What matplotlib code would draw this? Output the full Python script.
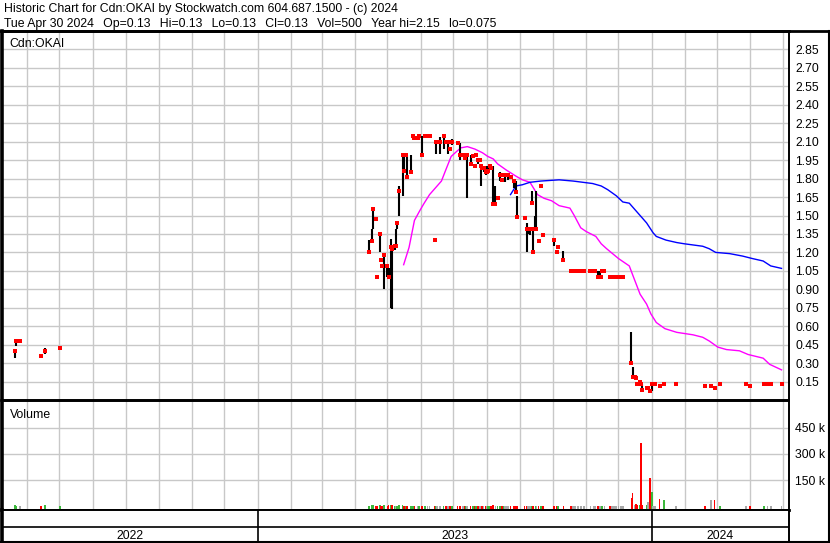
import numpy as np
import pandas as pd
import matplotlib
matplotlib.use("Agg")
import matplotlib.pyplot as plt
import matplotlib.dates as mdates
from matplotlib.lines import Line2D

plt.rcParams['font.family'] = ['Liberation Sans', 'DejaVu Sans']

# daily bars (high / low / close), volume in thousands, one line per period
bar_dates = [
    '2022-05-21', '2022-05-22', '2022-05-26', '2022-06-14', '2022-06-18', '2022-07-02',
    '2023-04-14', '2023-04-17', '2023-04-18', '2023-04-20', '2023-04-21', '2023-04-24', '2023-04-25', '2023-04-26', '2023-04-28',
    '2023-05-01', '2023-05-02', '2023-05-04', '2023-05-05', '2023-05-08', '2023-05-09', '2023-05-10', '2023-05-12', '2023-05-15', '2023-05-16', '2023-05-18', '2023-05-19', '2023-05-23', '2023-05-25', '2023-05-26', '2023-05-29', '2023-05-30',
    '2023-06-02', '2023-06-05', '2023-06-07', '2023-06-09', '2023-06-14', '2023-06-15', '2023-06-16', '2023-06-19', '2023-06-22', '2023-06-24', '2023-06-26', '2023-06-28', '2023-06-30',
    '2023-07-05', '2023-07-07', '2023-07-10', '2023-07-11', '2023-07-12', '2023-07-13', '2023-07-14', '2023-07-17', '2023-07-19', '2023-07-21', '2023-07-22', '2023-07-24', '2023-07-26', '2023-07-27', '2023-07-28', '2023-07-29', '2023-07-31',
    '2023-08-01', '2023-08-02', '2023-08-04', '2023-08-05', '2023-08-07', '2023-08-09', '2023-08-11', '2023-08-13', '2023-08-15', '2023-08-17', '2023-08-18', '2023-08-20', '2023-08-21', '2023-08-23', '2023-08-26', '2023-08-28', '2023-08-29',
    '2023-09-05', '2023-09-07', '2023-09-08', '2023-09-10', '2023-09-11', '2023-09-12', '2023-09-13', '2023-09-15', '2023-09-16', '2023-09-18', '2023-09-20', '2023-09-22',
    '2023-10-02', '2023-10-05', '2023-10-06', '2023-10-11', '2023-10-18', '2023-10-20', '2023-10-22', '2023-10-24', '2023-10-25', '2023-10-27', '2023-10-30',
    '2023-11-05', '2023-11-08', '2023-11-09', '2023-11-12', '2023-11-14', '2023-11-15', '2023-11-16', '2023-11-18', '2023-11-23', '2023-11-25', '2023-11-27', '2023-11-29',
    '2023-12-01', '2023-12-03', '2023-12-05', '2023-12-13', '2023-12-14', '2023-12-16', '2023-12-17', '2023-12-18', '2023-12-21', '2023-12-22', '2023-12-23', '2023-12-27', '2023-12-28', '2023-12-30',
    '2024-01-01', '2024-01-02', '2024-01-04', '2024-01-08', '2024-01-12', '2024-01-23', '2024-02-19', '2024-02-25', '2024-02-28', '2024-03-04', '2024-03-28', '2024-04-01', '2024-04-14', '2024-04-17', '2024-04-20', '2024-04-30',
]
bar_high = [
    0.40, 0.48, 0.48, 0.36, 0.42, 0.42,
    1.30, 1.39, 1.55, 1.47, 1.00, 1.35, 1.14, 1.09, 1.18,
    1.09, 1.07, 1.31, 1.24, 1.25, 1.39, 1.44, 1.74, 1.99, 1.99, 1.99, 1.99, 1.99, 2.15, 2.15, 2.13, 2.15,
    2.15, 2.15, 2.15, 2.15, 1.30, 2.10, 2.10, 2.14, 2.15, 2.10, 2.11, 2.04, 2.12,
    2.09, 2.09, 1.99, 1.99, 1.97, 1.99, 1.99, 1.99, 1.98, 1.90, 1.99, 1.96, 1.95, 1.90, 1.89, 1.90, 1.90,
    1.85, 1.90, 1.90, 1.89, 1.90, 1.74, 1.64, 1.85, 1.79, 1.83, 1.83, 1.83, 1.83, 1.81, 1.79, 1.78, 1.66,
    1.48, 1.44, 1.40, 1.40, 1.39, 1.70, 1.39, 1.50, 1.70, 1.29, 1.74, 1.34,
    1.30, 1.20, 1.245, 1.21, 1.045, 1.045, 1.045, 1.045, 1.045, 1.045, 1.045,
    1.045, 1.05, 1.045, 1.05, 1.05, 1.00, 1.045, 1.045, 1.00, 1.00, 1.00, 1.00,
    1.00, 1.00, 1.00, 0.55, 0.27, 0.19, 0.20, 0.13, 0.15, 0.13, 0.13, 0.10, 0.10, 0.075,
    0.14, 0.13, 0.13, 0.13, 0.13, 0.13, 0.11, 0.11, 0.095, 0.13, 0.13, 0.11, 0.13, 0.13, 0.13, 0.13,
]
bar_low = [
    0.34, 0.44, 0.48, 0.36, 0.37, 0.42,
    1.20, 1.29, 1.39, 1.47, 1.00, 1.20, 1.14, 1.09, 0.90,
    1.00, 1.00, 0.75, 0.74, 1.22, 1.25, 1.39, 1.50, 1.66, 1.86, 1.99, 1.81, 1.85, 2.15, 2.13, 2.13, 2.15,
    1.99, 2.15, 2.15, 2.15, 1.30, 2.00, 2.10, 2.00, 2.04, 2.10, 2.00, 2.04, 2.07,
    2.09, 1.95, 1.99, 1.96, 1.97, 1.99, 1.64, 1.92, 1.98, 1.90, 1.99, 1.92, 1.95, 1.74, 1.89, 1.85, 1.83,
    1.85, 1.86, 1.90, 1.89, 1.59, 1.59, 1.64, 1.78, 1.79, 1.83, 1.77, 1.83, 1.79, 1.81, 1.72, 1.69, 1.49,
    1.48, 1.20, 1.35, 1.34, 1.39, 1.60, 1.20, 1.39, 1.39, 1.29, 1.74, 1.34,
    1.25, 1.20, 1.245, 1.14, 1.045, 1.045, 1.045, 1.045, 1.045, 1.045, 1.045,
    1.045, 1.03, 1.045, 1.00, 1.00, 1.00, 1.045, 1.045, 1.00, 1.00, 1.00, 1.00,
    1.00, 1.00, 1.00, 0.30, 0.17, 0.19, 0.16, 0.13, 0.15, 0.13, 0.085, 0.08, 0.10, 0.075,
    0.075, 0.13, 0.13, 0.11, 0.13, 0.13, 0.11, 0.11, 0.095, 0.13, 0.13, 0.11, 0.13, 0.13, 0.13, 0.13,
]
bar_close = [
    0.40, 0.48, 0.48, 0.36, 0.40, 0.42,
    1.20, 1.29, 1.55, 1.47, 1.00, 1.35, 1.14, 1.09, 1.18,
    1.09, 1.00, 1.24, 1.23, 1.25, 1.25, 1.44, 1.70, 1.99, 1.86, 1.99, 1.81, 1.85, 2.15, 2.13, 2.13, 2.15,
    1.99, 2.15, 2.15, 2.15, 1.30, 2.10, 2.10, 2.10, 2.15, 2.10, 2.10, 2.04, 2.10,
    2.09, 1.99, 1.99, 1.99, 1.97, 1.99, 1.99, 1.92, 1.98, 1.90, 1.99, 1.95, 1.95, 1.90, 1.89, 1.89, 1.85,
    1.85, 1.86, 1.90, 1.89, 1.59, 1.59, 1.64, 1.83, 1.79, 1.83, 1.83, 1.83, 1.83, 1.81, 1.78, 1.69, 1.49,
    1.48, 1.39, 1.39, 1.39, 1.39, 1.60, 1.20, 1.39, 1.39, 1.29, 1.74, 1.34,
    1.30, 1.20, 1.245, 1.14, 1.045, 1.045, 1.045, 1.045, 1.045, 1.045, 1.045,
    1.045, 1.045, 1.045, 1.00, 1.00, 1.00, 1.045, 1.045, 1.00, 1.00, 1.00, 1.00,
    1.00, 1.00, 1.00, 0.30, 0.19, 0.19, 0.18, 0.13, 0.15, 0.13, 0.085, 0.10, 0.10, 0.075,
    0.13, 0.13, 0.13, 0.11, 0.13, 0.13, 0.11, 0.11, 0.095, 0.13, 0.13, 0.11, 0.13, 0.13, 0.13, 0.13,
]
bar_vol = [
    8, 3, 2, 3, 5, 3,
    4, 6, 8, 3, 3, 5, 4, 3, 9,
    4, 5, 8, 10, 4, 3, 4, 6, 7, 4, 3, 3, 3, 4, 2, 3, 2,
    3, 2, 3, 2, 2, 3, 2, 3, 3, 2, 3, 2, 3,
    2, 4, 2, 2, 2, 2, 4, 3, 2, 2, 2, 3, 2, 4, 2, 2, 3,
    2, 3, 2, 2, 5, 3, 2, 3, 2, 2, 2, 2, 2, 2, 3, 3, 4,
    2, 4, 2, 2, 2, 3, 4, 3, 3, 2, 2, 2,
    2, 2, 2, 3, 2, 2, 1, 2, 2, 1, 2,
    2, 2, 1, 3, 2, 2, 2, 1, 2, 2, 1, 2,
    2, 2, 2, 46, 77, 5, 13, 6, 8, 363, 10, 8, 27, 162,
    84, 3, 3, 42, 35, 4, 3, 35, 35, 2, 2, 3, 4, 2, 2, 0.5,
]

# moving averages
ma_short_dates = [
    '2023-05-16', '2023-05-21', '2023-05-26', '2023-05-31', '2023-06-04', '2023-06-09', '2023-06-15', '2023-06-20',
    '2023-06-24', '2023-06-29', '2023-07-04', '2023-07-08', '2023-07-14', '2023-07-21', '2023-07-28', '2023-08-02',
    '2023-08-07', '2023-08-11', '2023-08-19', '2023-08-28', '2023-09-03', '2023-09-10', '2023-09-17', '2023-09-23',
    '2023-09-30', '2023-10-07', '2023-10-17', '2023-10-21', '2023-10-27', '2023-11-01', '2023-11-10', '2023-11-15',
    '2023-11-20', '2023-12-01', '2023-12-11', '2023-12-14', '2023-12-21', '2023-12-27', '2023-12-31', '2024-01-05',
    '2024-01-13', '2024-01-24', '2024-02-08', '2024-02-17', '2024-02-23', '2024-03-02', '2024-03-10', '2024-03-22',
    '2024-03-30', '2024-04-13', '2024-04-19', '2024-04-30',
]
ma_short_vals = [
    1.10, 1.24, 1.46, 1.54, 1.60, 1.67, 1.73, 1.78,
    1.87, 1.98, 2.02, 2.05, 2.06, 2.04, 2.01, 1.98,
    1.96, 1.92, 1.87, 1.82, 1.79, 1.77, 1.67, 1.64,
    1.62, 1.58, 1.56, 1.50, 1.40, 1.37, 1.33, 1.27,
    1.23, 1.15, 1.09, 1.02, 0.86, 0.78, 0.70, 0.63,
    0.58, 0.55, 0.53, 0.51, 0.48, 0.43, 0.41, 0.40,
    0.37, 0.34, 0.29, 0.245,
]
ma_long_dates = [
    '2023-08-23', '2023-08-28', '2023-09-03', '2023-09-10', '2023-09-20', '2023-10-07', '2023-10-20', '2023-10-29',
    '2023-11-07', '2023-11-15', '2023-11-21', '2023-11-29', '2023-12-05', '2023-12-11', '2023-12-17', '2023-12-27',
    '2024-01-02', '2024-01-05', '2024-01-14', '2024-01-24', '2024-01-31', '2024-02-17', '2024-02-23', '2024-02-29',
    '2024-03-13', '2024-03-25', '2024-04-03', '2024-04-13', '2024-04-20', '2024-04-30',
]
ma_long_vals = [
    1.67, 1.74, 1.75, 1.77, 1.78, 1.79, 1.78, 1.77,
    1.76, 1.74, 1.71, 1.66, 1.61, 1.60, 1.54, 1.44,
    1.36, 1.33, 1.30, 1.28, 1.27, 1.25, 1.23, 1.20,
    1.19, 1.17, 1.15, 1.13, 1.09, 1.07,
]

price_ticks = [0.15, 0.30, 0.45, 0.60, 0.75, 0.90, 1.05, 1.20, 1.35, 1.50,
               1.65, 1.80, 1.95, 2.10, 2.25, 2.40, 2.55, 2.70, 2.85]
vol_ticks = [150000, 300000, 450000]
vol_tick_labels = ['150 k', '300 k', '450 k']
years = [2022, 2023, 2024]

gap = '  \u2009'
title1 = "Historic Chart for Cdn:OKAI by Stockwatch.com 604.687.1500 - (c) 2024"
title2 = gap.join(["Tue Apr 30 2024", "Op=0.13", "Hi=0.13", "Lo=0.13", "Cl=0.13",
                   "Vol=500", "Year hi=2.15", "lo=0.075"])

W, H = 830, 543
FS = 8.8
GRID = '#c8c8c8'


def box(left, top, right, bottom):
    # pixel box -> figure fraction
    return [left / W, 1 - bottom / H, (right - left) / W, (bottom - top) / H]


fig = plt.figure(figsize=(W / 100, H / 100), dpi=100)
fig.patch.set_facecolor('white')

ax = fig.add_axes(box(2, 31, 789, 400))
axv = fig.add_axes(box(2, 401, 789, 510))
axy = fig.add_axes(box(2, 510, 789, 542))

x0, x1 = pd.Timestamp('2022-05-09'), pd.Timestamp('2024-05-06 22:00')
dates = pd.to_datetime(bar_dates)

# price panel
ax.vlines(dates, bar_low, bar_high, color='black', lw=1.5, zorder=3)
ax.plot(dates, bar_close, ls='none', marker='s', ms=2.3, mew=0, color='red', zorder=4)
ax.plot(pd.to_datetime(ma_short_dates), ma_short_vals, color='#ff00ff', lw=1, zorder=2)
ax.plot(pd.to_datetime(ma_long_dates), ma_long_vals, color='#0000ff', lw=1, zorder=2)
ax.set_ylim(0, 3.0)
ax.set_yticks(price_ticks)
ax.set_yticklabels(['%.2f' % t for t in price_ticks])

# volume panel
colors = []
prev = None
for c in bar_close:
    if prev is None or c > prev:
        colors.append('#3cb83c')
    elif c < prev:
        colors.append('#ff0000')
    else:
        colors.append('#a8a8a8')
    prev = c
vlo, vhi = -21000, 602000
vols = np.array(bar_vol) * 1000
axv.bar(dates, vols - vlo, bottom=vlo, width=1.6, color=colors, lw=0, zorder=3)
axv.set_ylim(vlo, vhi)
axv.set_yticks(vol_ticks)
axv.set_yticklabels(vol_tick_labels)

for a in (ax, axv, axy):
    a.set_xlim(x0, x1)
    a.xaxis.set_major_locator(mdates.MonthLocator())
    a.tick_params(axis='x', length=0, labelbottom=False)
    for s in a.spines.values():
        s.set_color('black')
        s.set_linewidth(1.4)
    a.spines['left'].set_linewidth(2.6)

for a in (ax, axv):
    a.set_axisbelow(True)
    a.grid(True, color=GRID, lw=1)
    a.yaxis.tick_right()
    a.tick_params(axis='y', length=0, pad=4.5, labelsize=FS)

ax.spines['top'].set_linewidth(2)
axv.spines['bottom'].set_linewidth(2)

# year strip
axy.set_ylim(0, 1)
axy.set_yticks([])
axy.axhline(0.47, color='black', lw=1.2)
for yr in years:
    start = max(x0, pd.Timestamp(f'{yr}-01-01'))
    end = min(x1, pd.Timestamp(f'{yr + 1}-01-01'))
    if yr > years[0]:
        axy.axvline(pd.Timestamp(f'{yr}-01-01'), color='black', lw=1.2)
    axy.text(start + (end - start) / 2, 0.09, str(yr), ha='center', va='baseline', fontsize=FS)

# frame and texts
fig.add_artist(Line2D([0, 1], [1 - 31 / H] * 2, color='black', lw=2))
fig.add_artist(Line2D([1 - 1 / W] * 2, [0, 1 - 31 / H], color='black', lw=1.5))
fig.add_artist(Line2D([0, 1], [1 / H] * 2, color='black', lw=1.5))
fig.text(4 / W, 1 - 12 / H, title1, ha='left', va='baseline', fontsize=FS)
fig.text(4 / W, 1 - 27 / H, title2, ha='left', va='baseline', fontsize=FS)
fig.text(9 / W, 1 - 46.5 / H, 'Cdn:OKAI', ha='left', va='baseline', fontsize=FS)
fig.text(9.5 / W, 1 - 417.5 / H, 'Volume', ha='left', va='baseline', fontsize=FS)

fig.savefig('out.png', dpi=100)
